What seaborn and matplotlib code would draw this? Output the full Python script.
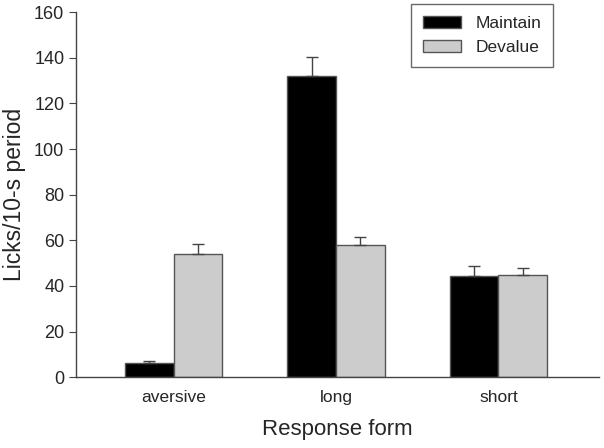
import pandas as pd
import numpy as np
import matplotlib
matplotlib.use("Agg")
import matplotlib.pyplot as plt
import seaborn as sns
from matplotlib.patches import Patch

# Data
forms = ["aversive", "long", "short"]
groups = ["Maintain", "Devalue"]
maintain = [6.1, 131.9, 44.5]
devalue = [53.9, 57.8, 44.8]
maintain_err = [1.2, 8.4, 4.1]
devalue_err = [4.3, 3.6, 3.1]

df = pd.DataFrame({
    "form": forms * 2,
    "group": [groups[0]] * 3 + [groups[1]] * 3,
    "licks": maintain + devalue,
    "err": maintain_err + devalue_err,
})

sns.set_style("ticks")
plt.rcParams["font.family"] = ["Liberation Sans", "DejaVu Sans"]

colors = {"Maintain": "#000000", "Devalue": "#cccccc"}

fig = plt.figure(figsize=(6.04, 4.48), dpi=100)
ax = fig.add_axes([0.126, 0.158, 0.866, 0.815])

sns.barplot(data=df, x="form", y="licks", hue="group", order=forms,
            hue_order=groups, palette=colors, width=0.6,
            edgecolor="#555555", linewidth=1.0, errorbar=None,
            legend=False, ax=ax)

# upward-only error bars on top of each bar
for bar_list, errs in zip(ax.containers, [maintain_err, devalue_err]):
    for patch, e in zip(bar_list, errs):
        xc = patch.get_x() + patch.get_width() / 2
        h = patch.get_height()
        ax.errorbar(xc, h, yerr=[[0], [e]], fmt="none", ecolor="#444444",
                    elinewidth=1.0, capsize=4.5, capthick=1.0)

ax.set_ylim(0, 160)
ax.set_yticks(range(0, 161, 20))
ax.set_xlim(-0.6, 2.62)
ax.tick_params(axis="y", labelsize=13, direction="out", length=5,
               color="#444444")
ax.tick_params(axis="x", labelsize=12.5, length=0, pad=9)
ax.set_xlabel("Response form", fontsize=16, labelpad=10)
ax.set_ylabel("Licks/10-s period", fontsize=16.5, labelpad=6)
sns.despine(ax=ax)
for s in ["left", "bottom"]:
    ax.spines[s].set_color("#444444")
    ax.spines[s].set_linewidth(1.0)

# legend box sits at the top right, touching the top of the figure
handles = [Patch(facecolor=colors[g], edgecolor="#555555", label=g) for g in groups]
leg = fig.legend(handles=handles, loc="upper right",
                 bbox_to_anchor=(0.916, 0.991), borderaxespad=0,
                 fontsize=12.5, frameon=True, fancybox=False,
                 handlelength=2.2, handleheight=0.7, handletextpad=0.8,
                 borderpad=0.7, labelspacing=0.5)
leg.get_frame().set_edgecolor("#444444")
leg.get_frame().set_linewidth(1.0)

fig.savefig("out.png", dpi=100)
